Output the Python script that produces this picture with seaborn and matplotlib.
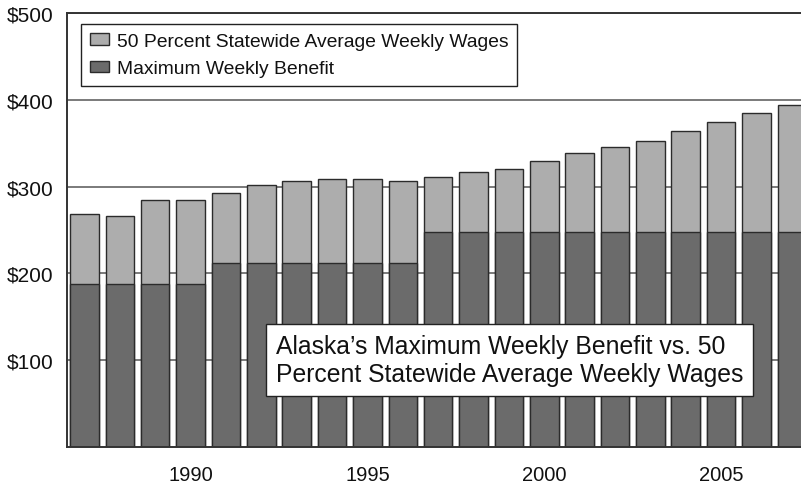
import matplotlib
matplotlib.use("Agg")
import matplotlib.pyplot as plt
from matplotlib.patches import Patch
import pandas as pd
import seaborn as sns

years = list(range(1987, 2008))
half_avg_wage = [268, 266, 285, 285, 293, 302, 306, 309, 309, 307, 311, 317,
                 320, 329, 339, 346, 353, 364, 375, 385, 394]
max_benefit = [188, 188, 188, 188, 212, 212, 212, 212, 212, 212, 248, 248,
               248, 248, 248, 248, 248, 248, 248, 248, 248]
y_ticks = [100, 200, 300, 400, 500]
x_ticks = [1990, 1995, 2000, 2005]

wage_label = "50 Percent Statewide Average Weekly Wages"
benefit_label = "Maximum Weekly Benefit"
title_text = "Alaska\u2019s Maximum Weekly Benefit vs. 50\nPercent Statewide Average Weekly Wages"

df = pd.DataFrame({"year": years, "wage": half_avg_wage, "benefit": max_benefit})

sns.set_style("white")
plt.rcParams["font.family"] = ["Liberation Sans", "DejaVu Sans"]

light = "#adadad"
dark = "#6b6b6b"
edge = "#2b2b2b"

fig = plt.figure(figsize=(8.01, 4.85), dpi=100)
ax = fig.add_axes([67 / 801, 37 / 485, 1 - 67 / 801, (448 - 14) / 485])

sns.barplot(data=df, x="year", y="wage", native_scale=True, width=0.806,
            color=light, saturation=1, edgecolor=edge, linewidth=1.0,
            errorbar=None, ax=ax)
sns.barplot(data=df, x="year", y="benefit", native_scale=True, width=0.806,
            color=dark, saturation=1, edgecolor=edge, linewidth=1.0,
            errorbar=None, ax=ax)

ax.set_xlim(1986.505, 2007.26)
ax.set_ylim(0, 500)
ax.set_xticks(x_ticks)
ax.set_xticklabels([str(y) for y in x_ticks])
ax.set_yticks(y_ticks)
ax.set_yticklabels([f"${v}" for v in y_ticks])
ax.set_xlabel("")
ax.set_ylabel("")
ax.tick_params(axis="x", length=0, pad=13, labelsize=14.5, labelcolor="#111111")
ax.tick_params(axis="y", length=0, pad=10, labelsize=15, labelcolor="#111111")

ax.set_axisbelow(True)
ax.yaxis.grid(True, color="#7a7a7a", linewidth=1.4)
ax.xaxis.grid(False)

for side in ("left", "bottom", "top"):
    ax.spines[side].set_visible(True)
    ax.spines[side].set_color("#333333")
    ax.spines[side].set_linewidth(1.4)
ax.spines["right"].set_visible(False)

handles = [Patch(facecolor=light, edgecolor=edge, linewidth=1.0),
           Patch(facecolor=dark, edgecolor=edge, linewidth=1.0)]
leg = ax.legend(handles, [wage_label, benefit_label],
                loc="upper left", bbox_to_anchor=(81 / 801, 1 - 25 / 485),
                bbox_transform=fig.transFigure, fontsize=13.85,
                frameon=True, fancybox=False, shadow=False, framealpha=1,
                edgecolor="#222222", borderpad=0.45, borderaxespad=0,
                handlelength=1.0, handleheight=0.55, handletextpad=0.4,
                labelspacing=0.55)
leg.get_frame().set_linewidth(1.0)
for t in leg.get_texts():
    t.set_color("#111111")

fig.text(276 / 801, 1 - 361 / 485, title_text, ha="left", va="center",
         fontsize=17.8, color="#111111", linespacing=1.2,
         bbox=dict(boxstyle="square,pad=0.4", facecolor="white",
                   edgecolor="#222222", linewidth=1.0))

fig.savefig("out.png", dpi=100)
